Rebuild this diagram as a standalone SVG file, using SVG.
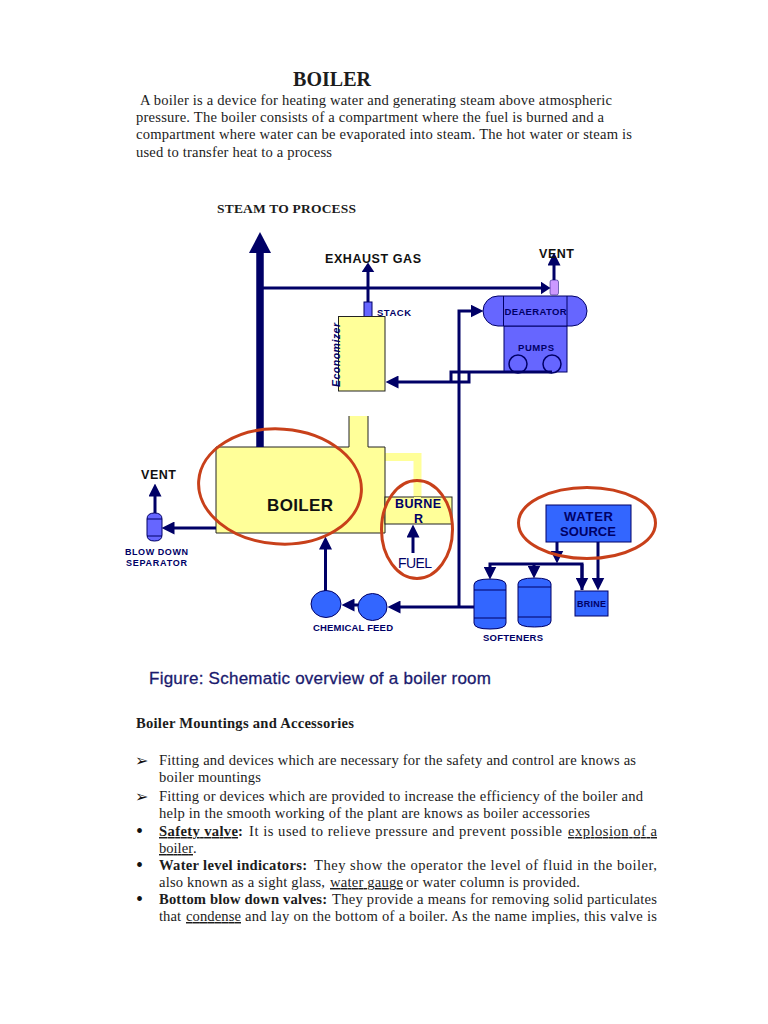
<svg xmlns="http://www.w3.org/2000/svg" width="768" height="1024" viewBox="0 0 768 1024">
<style>
.t{font-family:"Liberation Serif","Times New Roman",serif;font-size:14.6px;fill:#1c1c1c}
.b{font-weight:bold}
.u{text-decoration:underline}
.a{font-family:"Liberation Sans",Arial,sans-serif;font-weight:bold}
.n{fill:#000066}
.k{fill:#111}
.s9{font-size:9px}
.s95{font-size:9.5px}
.s10{font-size:10.5px}
.s12{font-size:12.5px}
.s13{font-size:13px}
.ln{fill:none;stroke:#000066;stroke-width:3}
.ye{fill:#ffff99;stroke:#222;stroke-width:1}
.bl{fill:#3366ff;stroke:#000066;stroke-width:1}
.pu{fill:#6666ff;stroke:#000066;stroke-width:1}
.ov{fill:none;stroke:#c8401a;stroke-width:3}
.mk{font-family:"DejaVu Sans",sans-serif;font-size:16px;fill:#111}
.dot{font-family:"Liberation Serif",serif;font-size:20px;fill:#111}
</style>
<defs>
<marker id="arrow" markerUnits="userSpaceOnUse" markerWidth="13" markerHeight="13" viewBox="0 0 12 12" refX="6" refY="6" orient="auto"><path d="M0 0L12 6L0 12Z" fill="#000066"/></marker>
<marker id="arrow-s" markerUnits="userSpaceOnUse" markerWidth="10" markerHeight="13" viewBox="0 0 9 12" refX="4" refY="6" orient="auto"><path d="M0 0L9 6L0 12Z" fill="#000066"/></marker>
<marker id="arrow-l" markerUnits="userSpaceOnUse" markerWidth="21" markerHeight="22" viewBox="0 0 21 22" refX="11" refY="11" orient="auto"><path d="M0 0L21 11L0 22Z" fill="#000066"/></marker>
</defs>
<rect width="768" height="1024" fill="#fff"/>

<g id="document-heading">
<text class="t b" x="293" y="86" style="font-size:20px" textLength="78">BOILER</text>
<text class="t" x="140" y="105" textLength="472">A boiler is a device for heating water and generating steam above atmospheric</text>
<text class="t" x="136" y="122" textLength="468">pressure. The boiler consists of a compartment where the fuel is burned and a</text>
<text class="t" x="136" y="139" textLength="496">compartment where water can be evaporated into steam. The hot water or steam is</text>
<text class="t" x="136" y="157" textLength="196">used to transfer heat to a process</text>
<text class="t b" x="217" y="213" style="font-size:13.5px" textLength="139">STEAM TO PROCESS</text>
</g>

<g id="burner-duct"><path d="M385 457H417.500V497" fill="none" stroke="#ffff99" stroke-width="8"/></g>

<g id="economizer">
<rect class="pu" x="364" y="302" width="8" height="15"/>
<rect class="ye" x="338.500" y="316.500" width="46.500" height="74.500"/>
<text class="a n s10" transform="translate(340 387) rotate(-90)" font-style="italic" textLength="64">Economizer</text>
<text class="a n s95" x="377" y="316" textLength="34">STACK</text>
</g>

<g id="deaerator">
<rect class="pu" x="504" y="326" width="63" height="46"/>
<rect class="pu" x="483" y="296" width="104" height="30" rx="15" ry="15"/>
<path d="M503.500 296V326M567 296V326" stroke="#000066" fill="none"/>
<circle class="pu" cx="518" cy="364" r="9" style="stroke-width:1.500"/>
<circle class="pu" cx="552" cy="364" r="9" style="stroke-width:1.500"/>
<rect x="550" y="280" width="8.500" height="15" rx="2" fill="#cc99ff" stroke="#000066" stroke-width="0.500"/>
<text class="a n s95" x="504.500" y="314.500" textLength="62">DEAERATOR</text>
<text class="a n s95" x="518" y="351" textLength="36">PUMPS</text>
</g>

<g id="boiler">
<path d="M216 447H349V416H368V447H385V533H216Z" fill="#ffff99"/>
<path d="M349 416V447H216V533H385V447H368V416" fill="none" stroke="#222"/>
<text class="a k" x="267" y="511" style="font-size:17px" textLength="66">BOILER</text>
</g>

<g id="burner">
<rect class="ye" x="385" y="497" width="67" height="27"/>
<path d="M414 497H421V500H414Z" fill="#ffff99"/>
<text class="a n s12" x="395" y="508" textLength="46">BURNE</text>
<text class="a n s12" x="414" y="523" textLength="9">R</text>
<text x="398" y="568" font-family="Liberation Sans, Arial, sans-serif" font-size="14" fill="#000066" textLength="34">FUEL</text>
</g>

<g id="blow-down-separator">
<path class="pu" d="M147 519Q147 513 154.500 513Q162 513 162 519V535Q162 541 154.500 541Q147 541 147 535Z"/>
<path d="M147 519H162M147 536H162" stroke="#000066" fill="none"/>
<text class="a n s9" x="125" y="555" textLength="63">BLOW DOWN</text>
<text class="a n s9" x="126" y="566" textLength="61">SEPARATOR</text>
</g>

<g id="chemical-feed">
<ellipse class="bl" cx="326" cy="604" rx="15" ry="13.500"/>
<ellipse class="bl" cx="372.500" cy="607" rx="14.500" ry="13.500"/>
<text class="a n s95" x="313" y="631" textLength="80">CHEMICAL FEED</text>
</g>

<g id="softeners">
<path class="bl" d="M474 585Q474 579 490 579Q506 579 506 585V623Q506 629 490 629Q474 629 474 623Z"/>
<path d="M474 590H506M474 618H506" stroke="#000066" fill="none"/>
<path class="bl" d="M518 584Q518 578 534.500 578Q551 578 551 584V621Q551 627 534.500 627Q518 627 518 621Z"/>
<path d="M518 587H551M518 617H551" stroke="#000066" fill="none"/>
<text class="a n s95" x="483" y="641" textLength="60">SOFTENERS</text>
</g>

<g id="water-source">
<rect class="bl" x="546" y="505" width="85" height="37"/>
<text class="a n s13" x="564" y="521" textLength="49">WATER</text>
<text class="a n s13" x="560" y="536" textLength="56">SOURCE</text>
</g>

<g id="brine">
<rect class="bl" x="575" y="591" width="33" height="25"/>
<text class="a n s9" x="577" y="607" textLength="29">BRINE</text>
</g>

<g id="connectors">
<path class="ln" style="stroke-width:7.500" d="M260 447V242" marker-end="url(#arrow-l)"/>
<path class="ln" d="M263 288H545" marker-end="url(#arrow-s)"/>
<path class="ln" d="M368 302V268" marker-end="url(#arrow-s)"/>
<path class="ln" d="M554 280V259" marker-end="url(#arrow)"/>
<path class="ln" d="M459 607V311H477" marker-end="url(#arrow)"/>
<path class="ln" d="M552 372H451V382H469V372M451 382H392" marker-end="url(#arrow)"/>
<path class="ln" d="M155 513V490" marker-end="url(#arrow)"/>
<path class="ln" d="M216 528H168" marker-end="url(#arrow)"/>
<path class="ln" d="M474 607H394" marker-end="url(#arrow)"/>
<path class="ln" d="M358 605H348" marker-end="url(#arrow)"/>
<path class="ln" d="M325.500 591V543" marker-end="url(#arrow)"/>
<path class="ln" d="M413 553V531" marker-end="url(#arrow)"/>
<path class="ln" d="M557 542V557" marker-end="url(#arrow)"/>
<path class="ln" d="M582 590V564H490V573" marker-end="url(#arrow)"/>
<path class="ln" d="M534 564V572" marker-end="url(#arrow)"/>
<path class="ln" d="M582 564V584" marker-end="url(#arrow)"/>
<path class="ln" d="M598 542V584" marker-end="url(#arrow)"/>
</g>

<g id="highlight-boiler"><ellipse class="ov" cx="280" cy="486.500" rx="81.500" ry="57.500" transform="rotate(4 280 486.500)"/></g>
<g id="highlight-burner"><ellipse class="ov" cx="417" cy="529.500" rx="35.500" ry="49"/></g>
<g id="highlight-water"><ellipse class="ov" cx="587" cy="523" rx="68.500" ry="35.500"/></g>

<g id="labels">
<text class="a k s12" x="325" y="263" textLength="96">EXHAUST GAS</text>
<text class="a k s12" x="539" y="258" textLength="35">VENT</text>
<text class="a k s12" x="141" y="479" textLength="35">VENT</text>
</g>

<g id="document-body">
<text x="149" y="684" font-family="Liberation Sans, Arial, sans-serif" font-size="17" fill="#1a1a6e" stroke="#1a1a6e" stroke-width="0.300" textLength="342">Figure: Schematic overview of a boiler room</text>
<text class="t b" x="136" y="728" textLength="218">Boiler Mountings and Accessories</text>

<text class="mk" x="135" y="766">➢</text>
<text class="t" x="159" y="765" textLength="477">Fitting and devices which are necessary for the safety and control are knows as</text>
<text class="t" x="159" y="782" textLength="102">boiler mountings</text>
<text class="mk" x="135" y="802">➢</text>
<text class="t" x="159" y="801" textLength="484">Fitting or devices which are provided to increase the efficiency of the boiler and</text>
<text class="t" x="159" y="818" textLength="431">help in the smooth working of the plant are knows as boiler accessories</text>

<text class="dot" x="136" y="838">•</text>
<text class="t b u" x="159" y="836" textLength="79">Safety valve</text><text class="t b" x="238" y="836">:</text>
<text class="t" x="249" y="836" textLength="313">It is used to relieve pressure and prevent possible</text>
<text class="t u" x="568" y="836" textLength="89">explosion of a</text>
<text class="t u" x="159" y="853" textLength="34">boiler</text><text class="t" x="193" y="853">.</text>

<text class="dot" x="136" y="872">•</text>
<text class="t b" x="159" y="870" textLength="148">Water level indicators:</text>
<text class="t" x="314" y="870" textLength="343">They show the operator the level of fluid in the boiler,</text>
<text class="t" x="159" y="887" textLength="166">also known as a sight glass,</text>
<text class="t u" x="330" y="887" textLength="73">water gauge</text>
<text class="t" x="406" y="887" textLength="174">or water column is provided.</text>

<text class="dot" x="136" y="906">•</text>
<text class="t b" x="159" y="904" textLength="168">Bottom blow down valves:</text>
<text class="t" x="332" y="904" textLength="325">They provide a means for removing solid particulates</text>
<text class="t" x="159" y="921" textLength="22">that</text>
<text class="t u" x="186" y="921" textLength="55">condense</text>
<text class="t" x="245" y="921" textLength="412">and lay on the bottom of a boiler. As the name implies, this valve is</text>
</g>
</svg>
